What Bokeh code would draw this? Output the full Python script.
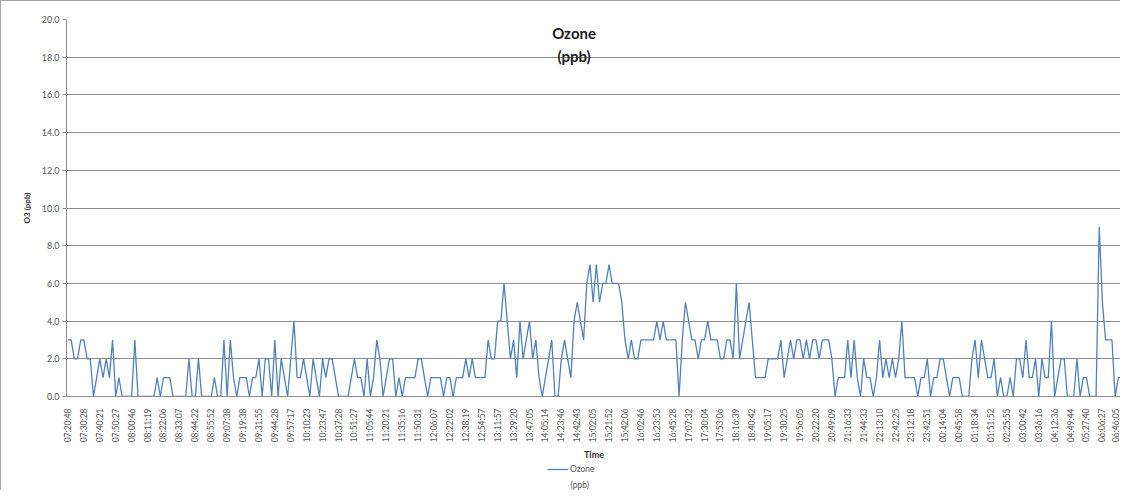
import math
from bokeh.plotting import figure
from bokeh.layouts import column, row
from bokeh.models import (ColumnDataSource, FixedTicker, NumeralTickFormatter, Range1d,
                          Legend, LegendItem, Label, Spacer)
from bokeh.embed import file_html
from bokeh.resources import INLINE

# ---- data -------------------------------------------------------------
time_labels = [
    "07:20:48", "07:30:28", "07:40:21", "07:50:27", "08:00:46", "08:11:19", "08:22:06",
    "08:33:07", "08:44:22", "08:55:52", "09:07:38", "09:19:38", "09:31:55", "09:44:28",
    "09:57:17", "10:10:23", "10:23:47", "10:37:28", "10:51:27", "11:05:44", "11:20:21",
    "11:35:16", "11:50:31", "12:06:07", "12:22:02", "12:38:19", "12:54:57", "13:11:57",
    "13:29:20", "13:47:05", "14:05:14", "14:23:46", "14:42:43", "15:02:05", "15:21:52",
    "15:42:06", "16:02:46", "16:23:53", "16:45:28", "17:07:32", "17:30:04", "17:53:06",
    "18:16:39", "18:40:42", "19:05:17", "19:30:25", "19:56:05", "20:22:20", "20:49:09",
    "21:16:33", "21:44:33", "22:13:10", "22:42:25", "23:12:18", "23:42:51", "00:14:04",
    "00:45:58", "01:18:34", "01:51:52", "02:25:55", "03:00:42", "03:36:16", "04:12:36",
    "04:49:44", "05:27:40", "06:06:27", "06:46:05",
]
label_every = 5  # one time label every 5 samples

ozone_ppb = [
    3, 3, 2, 2, 3, 3, 2, 2, 0, 1,
    2, 1, 2, 1, 3, 0, 1, 0, 0, 0,
    0, 3, 0, 0, 0, 0, 0, 0, 1, 0,
    1, 1, 1, 0, 0, 0, 0, 0, 2, 0,
    0, 2, 0, 0, 0, 0, 1, 0, 0, 3,
    0, 3, 1, 0, 1, 1, 1, 0, 1, 1,
    2, 0, 2, 2, 0, 3, 0, 2, 1, 0,
    2, 4, 1, 1, 2, 1, 0, 2, 1, 0,
    2, 1, 2, 2, 1, 0, 0, 0, 0, 1,
    2, 1, 1, 0, 2, 0, 1, 3, 2, 0,
    1, 2, 2, 0, 1, 0, 1, 1, 1, 1,
    2, 2, 1, 0, 1, 1, 1, 1, 0, 1,
    1, 0, 1, 1, 1, 2, 1, 2, 1, 1,
    1, 1, 3, 2, 2, 4, 4, 6, 4, 2,
    3, 1, 4, 2, 3, 4, 2, 3, 1, 0,
    1, 2, 3, 0, 0, 2, 3, 2, 1, 4,
    5, 4, 3, 6, 7, 5, 7, 5, 6, 6,
    7, 6, 6, 6, 5, 3, 2, 3, 2, 2,
    3, 3, 3, 3, 3, 4, 3, 4, 3, 3,
    3, 3, 0, 3, 5, 4, 3, 3, 2, 3,
    3, 4, 3, 3, 3, 2, 2, 3, 3, 2,
    6, 2, 3, 4, 5, 3, 1, 1, 1, 1,
    2, 2, 2, 2, 3, 1, 2, 3, 2, 3,
    3, 2, 3, 2, 3, 3, 2, 3, 3, 3,
    2, 0, 1, 1, 1, 3, 1, 3, 1, 0,
    2, 1, 1, 0, 1, 3, 1, 2, 1, 2,
    1, 2, 4, 1, 1, 1, 1, 0, 1, 1,
    2, 0, 1, 1, 2, 2, 1, 0, 1, 1,
    1, 0, 0, 0, 2, 3, 1, 3, 2, 1,
    1, 2, 0, 1, 0, 0, 1, 0, 2, 2,
    1, 3, 1, 1, 2, 0, 2, 1, 1, 4,
    0, 1, 2, 2, 0, 0, 0, 2, 0, 1,
    1, 0, 0, 0, 9, 5, 3, 3, 3, 0,
    1, 1,
]

y_ticks = [0, 2, 4, 6, 8, 10, 12, 14, 16, 18, 20]

# ---- styles -------------------------------------------------------------
FONT = "Lato"
GRID = "#8c8c8c"
TXT = "#595959"
BLUE = "#4f81bd"
BORDER = "1px solid #a6a6a6"

n = len(ozone_ppb)
src = ColumnDataSource(dict(i=list(range(n)), o3=ozone_ppb))

# ---- main chart ----------------------------------------------------------
p = figure(width=1120, height=462, output_backend="svg", toolbar_location=None,
           x_range=Range1d(-0.47, n - 1), y_range=Range1d(0, 20),
           min_border_left=65, min_border_top=18, min_border_bottom=67,
           min_border_right=0)
p.styles = {"border-left": BORDER, "border-top": BORDER}
p.outline_line_color = None

r = p.line("i", "o3", source=src, line_color=BLUE, line_width=1.3)

# y axis
p.yaxis.ticker = FixedTicker(ticks=y_ticks)
p.yaxis.formatter = NumeralTickFormatter(format="0.0")
p.yaxis.axis_label = "O3 (ppb)"
p.yaxis.axis_label_text_font = FONT
p.yaxis.axis_label_text_font_size = "8px"
p.yaxis.axis_label_text_font_style = "bold"
p.yaxis.axis_label_text_color = "#333333"
p.yaxis.axis_label_standoff = 7
p.yaxis.major_label_text_font = FONT
p.yaxis.major_label_text_font_size = "9px"
p.yaxis.major_label_text_color = TXT
p.yaxis.major_label_standoff = 3
p.yaxis.major_tick_out = 4
p.yaxis.major_tick_in = 0
p.yaxis.minor_tick_line_color = None
p.yaxis.axis_line_color = GRID
p.yaxis.major_tick_line_color = GRID

# x axis
p.xaxis.ticker = FixedTicker(ticks=list(range(0, n, label_every)))
p.xaxis.major_label_overrides = {k * label_every: t for k, t in enumerate(time_labels)}
p.xaxis.major_label_orientation = math.pi / 2
p.xaxis.major_label_text_font = FONT
p.xaxis.major_label_text_font_size = "8.5px"
p.xaxis.major_label_text_color = TXT
p.xaxis.major_label_standoff = 6
p.xaxis.major_tick_line_color = None
p.xaxis.minor_tick_line_color = None
p.xaxis.axis_line_color = GRID
p.xaxis.axis_label = "Time"
p.xaxis.axis_label_text_font = FONT
p.xaxis.axis_label_text_font_size = "9px"
p.xaxis.axis_label_text_font_style = "bold"
p.xaxis.axis_label_text_color = "#333333"
p.xaxis.axis_label_standoff = 4

# grid
p.xgrid.grid_line_color = None
p.ygrid.grid_line_color = GRID
p.ygrid.grid_line_width = 1

# title inside the frame
for txt, yy in (("Ozone", 19.3), ("(ppb)", 18.05)):
    p.add_layout(Label(x=159, y=yy, text=txt, text_font=FONT, text_font_size="15px",
                       text_font_style="bold", text_color="#1a1a1a",
                       text_align="center", text_baseline="middle"))

# ---- legend strip under the chart ----------------------------------------
# The same series is drawn here on ranges that keep it out of view, so that the
# legend key carries the series' own line style.
LW, LH = 90, 28
lf = figure(width=LW, height=LH, output_backend="svg", toolbar_location=None,
            x_range=Range1d(-1000, -1000 + LW), y_range=Range1d(0, LH),
            min_border=0, outline_line_color=None)
lf.axis.visible = False
lf.grid.visible = False
lr = lf.line("i", "o3", source=src, line_color=BLUE, line_width=1.3)
leg = Legend(items=[LegendItem(label="Ozone", renderers=[lr])],
             location="top_left", orientation="vertical",
             border_line_color=None, background_fill_alpha=0,
             label_text_font=FONT, label_text_font_size="8.5px",
             label_text_color=TXT, label_height=12, glyph_width=21, glyph_height=12,
             label_standoff=2, padding=0, margin=1, spacing=0)
lf.add_layout(leg)
lf.add_layout(Label(x=-1000 + 24, y=6, text="(ppb)", text_font=FONT,
                    text_font_size="8.5px", text_color=TXT,
                    text_align="left", text_baseline="middle"))

legend_row = row(Spacer(width=546, height=LH, styles={"border-left": BORDER}), lf)
layout = column(p, legend_row, spacing=0)

open("out.html", "w").write(file_html(layout, INLINE))
